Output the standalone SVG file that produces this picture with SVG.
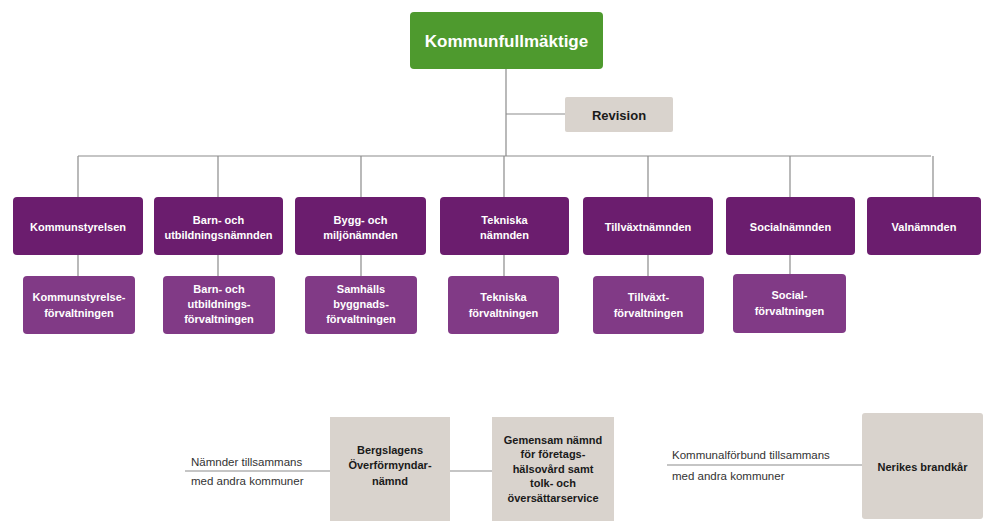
<svg xmlns="http://www.w3.org/2000/svg" width="983" height="521" viewBox="0 0 983 521">
<style>
.ln{stroke:#8c8c8c;stroke-width:1.2;fill:none}
.l1{fill:#6b1d6e}
.l2{fill:#813a86}
.gr{fill:#d9d3cd}
.tw{font-family:"Liberation Sans",Arial,sans-serif;font-weight:bold;font-size:11px;fill:#ffffff;text-anchor:middle}
.tb{font-family:"Liberation Sans",Arial,sans-serif;font-weight:bold;font-size:11px;fill:#1a1a1a;text-anchor:middle}
.tn{font-family:"Liberation Sans",Arial,sans-serif;font-size:11.5px;fill:#333333}
</style>
<rect width="983" height="521" fill="#ffffff"/>
<g id="connectors">
<path class="ln" d="M506 69V156M506 114H565M78 156H931"/>
<path class="ln" d="M78 156V197M218 156V197M361 156V197M504 156V197M648 156V197M790 156V197M933 156V197"/>
<path class="ln" d="M78 255V276M218 255V276M361 255V276M504 255V276M648 255V276M790 255V274"/>
<path class="ln" d="M185 471H330M450 471H492M667 465H862"/>
</g>
<g id="kommunfullmaktige">
<rect x="410" y="12" width="193" height="57" rx="4" fill="#4e9a2e"/>
<text x="506.5" y="47" class="tw" style="font-size:17px">Kommunfullmäktige</text>
</g>
<g id="revision">
<rect x="565" y="97" width="108" height="35" rx="2" class="gr"/>
<text x="619" y="120" class="tb" style="font-size:13px">Revision</text>
</g>
<g id="kommunstyrelsen">
<rect x="13" y="197" width="130" height="58" rx="4" class="l1"/>
<text x="78" y="231" class="tw">Kommunstyrelsen</text>
</g>
<g id="barn-och-utbildningsnamnden">
<rect x="154" y="197" width="129" height="58" rx="4" class="l1"/>
<text x="218.5" y="224" class="tw">Barn- och</text>
<text x="218.5" y="239" class="tw">utbildningsnämnden</text>
</g>
<g id="bygg-och-miljonamnden">
<rect x="295" y="197" width="131" height="58" rx="4" class="l1"/>
<text x="360.5" y="224" class="tw">Bygg- och</text>
<text x="360.5" y="239" class="tw">miljönämnden</text>
</g>
<g id="tekniska-namnden">
<rect x="440" y="197" width="129" height="58" rx="4" class="l1"/>
<text x="504.5" y="224" class="tw">Tekniska</text>
<text x="504.5" y="239" class="tw">nämnden</text>
</g>
<g id="tillvaxtnamnden">
<rect x="583" y="197" width="130" height="58" rx="4" class="l1"/>
<text x="648" y="231" class="tw">Tillväxtnämnden</text>
</g>
<g id="socialnamnden">
<rect x="726" y="197" width="129" height="58" rx="4" class="l1"/>
<text x="790.5" y="231" class="tw">Socialnämnden</text>
</g>
<g id="valnamnden">
<rect x="867" y="197" width="114" height="58" rx="4" class="l1"/>
<text x="924" y="231" class="tw">Valnämnden</text>
</g>
<g id="kommunstyrelseforvaltningen">
<rect x="23" y="276" width="112" height="58" rx="4" class="l2"/>
<text x="79" y="301" class="tw">Kommunstyrelse-</text>
<text x="79" y="317" class="tw">förvaltningen</text>
</g>
<g id="barn-och-utbildningsforvaltningen">
<rect x="163" y="276" width="112" height="58" rx="4" class="l2"/>
<text x="219" y="293" class="tw">Barn- och</text>
<text x="219" y="308" class="tw">utbildnings-</text>
<text x="219" y="323" class="tw">förvaltningen</text>
</g>
<g id="samhallsbyggnadsforvaltningen">
<rect x="305" y="276" width="112" height="58" rx="4" class="l2"/>
<text x="361" y="293" class="tw">Samhälls</text>
<text x="361" y="308" class="tw">byggnads-</text>
<text x="361" y="323" class="tw">förvaltningen</text>
</g>
<g id="tekniska-forvaltningen">
<rect x="448" y="276" width="111" height="58" rx="4" class="l2"/>
<text x="503.5" y="301" class="tw">Tekniska</text>
<text x="503.5" y="317" class="tw">förvaltningen</text>
</g>
<g id="tillvaxtforvaltningen">
<rect x="593" y="276" width="111" height="58" rx="4" class="l2"/>
<text x="648.5" y="301" class="tw">Tillväxt-</text>
<text x="648.5" y="317" class="tw">förvaltningen</text>
</g>
<g id="socialforvaltningen">
<rect x="733" y="274" width="113" height="59" rx="4" class="l2"/>
<text x="789.5" y="299" class="tw">Social-</text>
<text x="789.5" y="315" class="tw">förvaltningen</text>
</g>
<g id="label-namnder">
<text x="191" y="466" class="tn">Nämnder tillsammans</text>
<text x="191" y="485" class="tn">med andra kommuner</text>
</g>
<g id="bergslagens">
<rect x="330" y="417" width="120" height="104" class="gr"/>
<text x="390" y="454" class="tb">Bergslagens</text>
<text x="390" y="469" class="tb">Överförmyndar-</text>
<text x="390" y="485" class="tb">nämnd</text>
</g>
<g id="gemensam-namnd">
<rect x="492" y="417" width="122" height="104" class="gr"/>
<text x="553" y="444" class="tb">Gemensam nämnd</text>
<text x="553" y="458" class="tb">för företags-</text>
<text x="553" y="473" class="tb">hälsovård samt</text>
<text x="553" y="487" class="tb">tolk- och</text>
<text x="553" y="502" class="tb">översättarservice</text>
</g>
<g id="label-kommunalforbund">
<text x="672" y="459" class="tn">Kommunalförbund tillsammans</text>
<text x="672" y="480" class="tn">med andra kommuner</text>
</g>
<g id="nerikes-brandkar">
<rect x="862" y="413" width="121" height="106" rx="3" class="gr"/>
<text x="922.5" y="471" class="tb">Nerikes brandkår</text>
</g>
</svg>
